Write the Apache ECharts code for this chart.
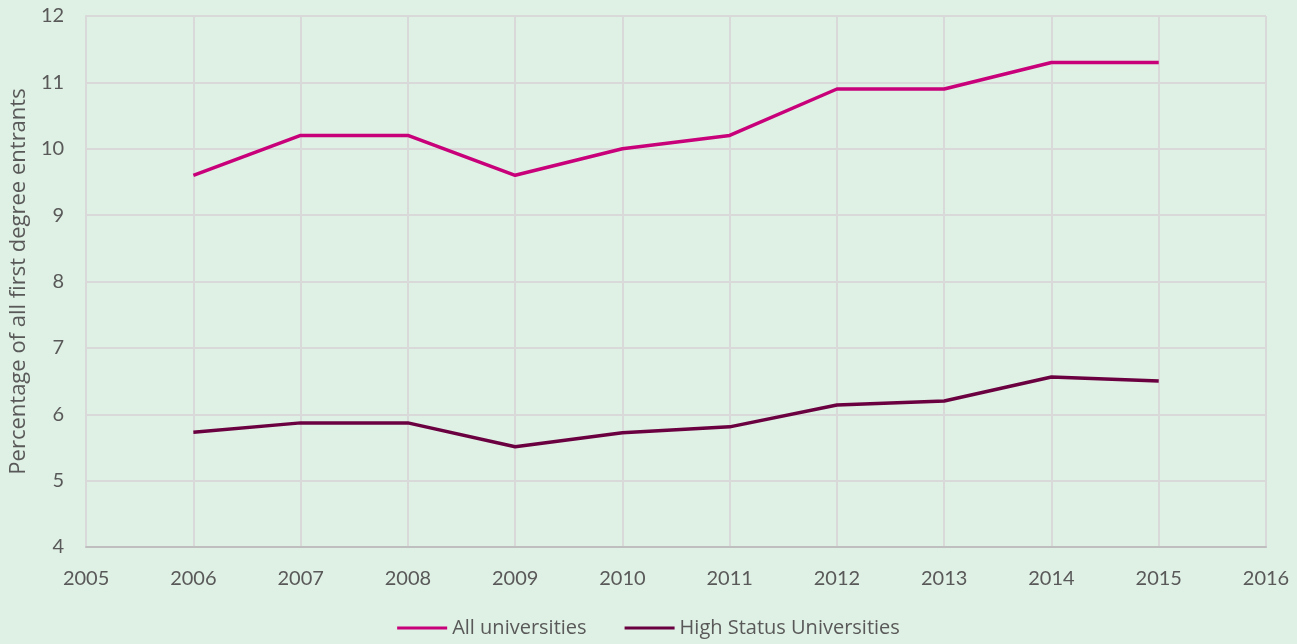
<!DOCTYPE html>
<html>
<head>
<meta charset="utf-8">
<script src="https://cdn.jsdelivr.net/npm/echarts@6/dist/echarts.min.js"></script>
<style>
  html, body { margin: 0; padding: 0; background: #dff0e4; }
  #chart { width: 1297px; height: 644px; }
</style>
</head>
<body>
<div id="chart"></div>
<script>
// years on the x axis
const years = [2006, 2007, 2008, 2009, 2010, 2011, 2012, 2013, 2014, 2015]
const allUniversities = [9.6, 10.2, 10.2, 9.6, 10.0, 10.2, 10.9, 10.9, 11.3, 11.3]
const highStatus = [5.73, 5.87, 5.87, 5.51, 5.72, 5.81, 6.14, 6.2, 6.56, 6.5]

const pairs = (vals) => years.map((y, i) => [y, vals[i]])

const textColor = '#595959'
const font = 'Lato, "Open Sans", sans-serif'

const option = {
  backgroundColor: '#dff0e4',
  animation: false,
  grid: { left: 86, right: 31, top: 16, bottom: 97 },
  legend: {
    bottom: 1,
    left: 'center',
    icon: 'rect',
    itemWidth: 50,
    itemHeight: 3,
    itemGap: 38,
    textStyle: { color: textColor, fontSize: 20, fontFamily: '"Open Sans", sans-serif' },
    data: ['All universities', 'High Status Universities'],
  },
  xAxis: {
    type: 'value',
    min: 2005,
    max: 2016,
    interval: 1,
    axisLine: { show: true, lineStyle: { color: '#bfbfbf', width: 2 } },
    axisTick: { show: false },
    axisLabel: {
      color: textColor, fontSize: 20, fontFamily: font, margin: 22,
      formatter: (v) => String(v),
    },
    splitLine: { show: true, lineStyle: { color: '#d9d9d9', width: 2 } },
  },
  yAxis: {
    type: 'value',
    min: 4,
    max: 12,
    interval: 1,
    name: 'Percentage of all first degree entrants',
    nameLocation: 'middle',
    nameGap: 52,
    nameTextStyle: { color: textColor, fontSize: 22, fontFamily: '"Open Sans", sans-serif' },
    axisLine: { show: true, lineStyle: { color: '#d9d9d9', width: 2 } },
    axisTick: { show: false },
    axisLabel: { color: textColor, fontSize: 20, fontFamily: font, margin: 22 },
    splitLine: { show: true, lineStyle: { color: '#d9d9d9', width: 2 } },
  },
  series: [
    {
      name: 'All universities',
      type: 'line',
      data: pairs(allUniversities),
      showSymbol: false,
      color: '#c8007a',
      lineStyle: { width: 3.5, color: '#c8007a' },
    },
    {
      name: 'High Status Universities',
      type: 'line',
      data: pairs(highStatus),
      showSymbol: false,
      color: '#6b0040',
      lineStyle: { width: 3.5, color: '#6b0040' },
    },
  ],
}

const chart = echarts.init(document.getElementById('chart'))
chart.setOption(option)
</script>
</body>
</html>
